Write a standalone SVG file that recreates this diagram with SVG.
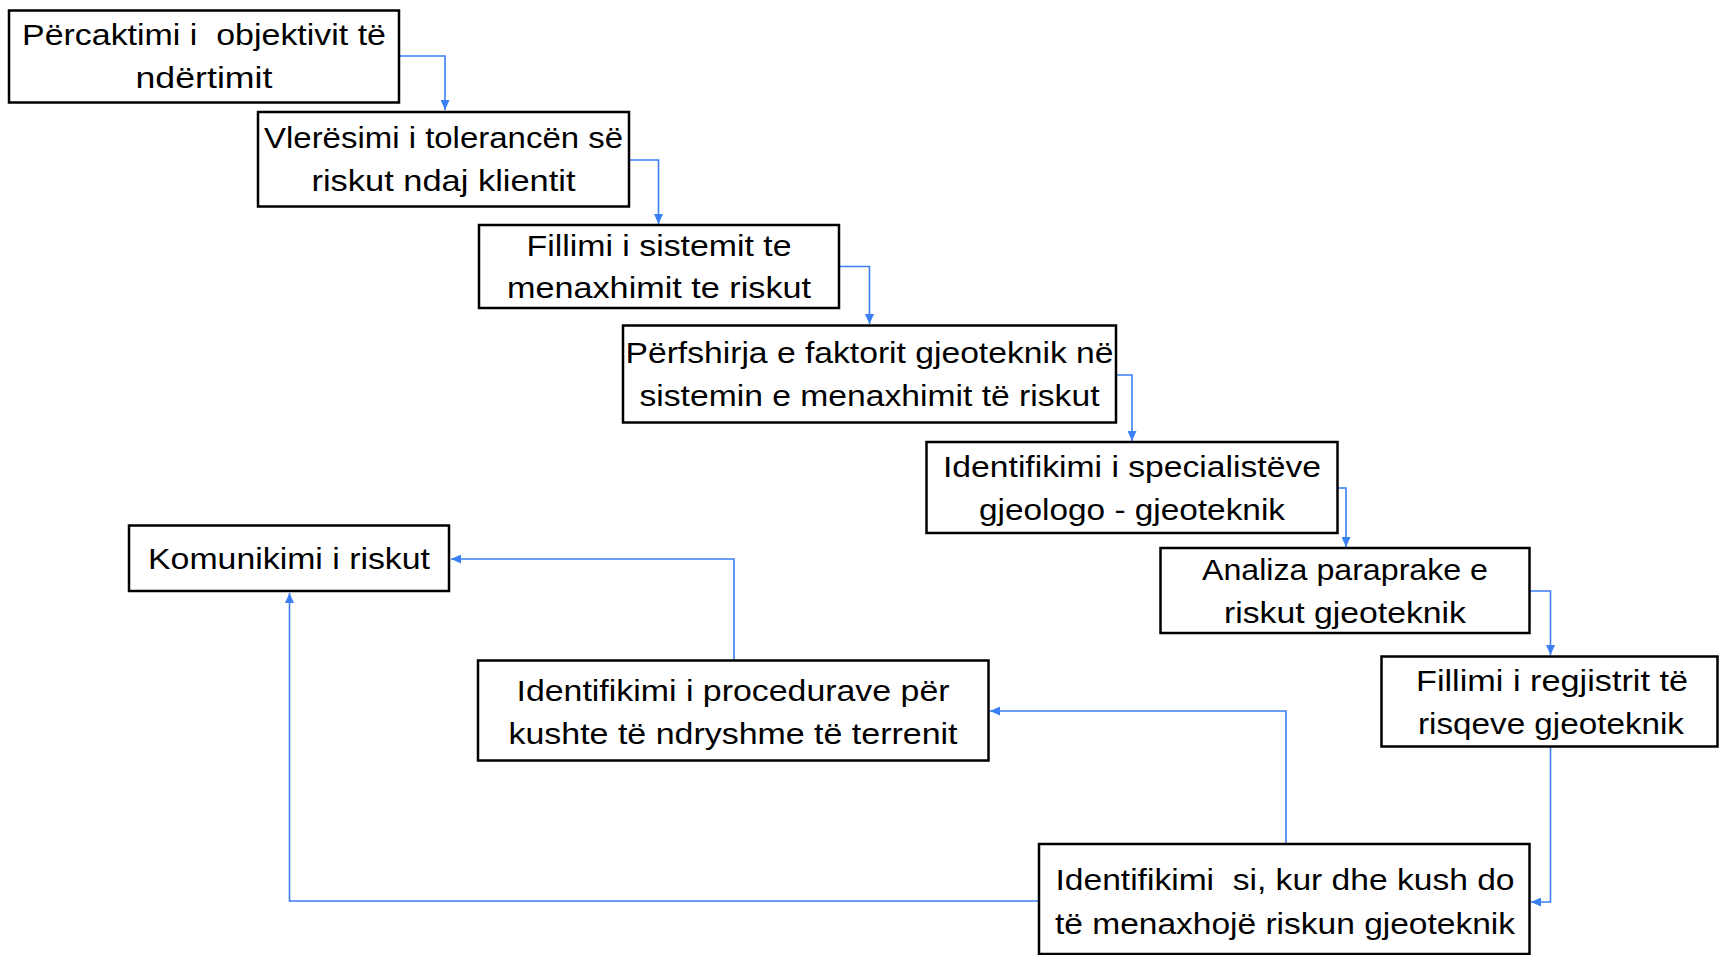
<svg xmlns="http://www.w3.org/2000/svg" width="1719" height="955" viewBox="0 0 1719 955">
  <style>
    .box { fill: #ffffff; stroke: #000000; stroke-width: 2.5; }
    .lbl { font-family: "Liberation Sans", Arial, sans-serif; font-size: 30px; fill: #000000; text-anchor: middle; white-space: pre; }
    .conn { fill: none; stroke: #3b7ff5; stroke-width: 1.6; }
  </style>
  <defs>
    <marker id="arrow" markerUnits="userSpaceOnUse" markerWidth="10" markerHeight="9" refX="10" refY="4.5" orient="auto">
      <path d="M0,0 L10,4.5 L0,9 z" fill="#3b7ff5"/>
    </marker>
  </defs>
  <rect width="1719" height="955" fill="#ffffff"/>

  <g id="connectors">
    <path class="conn" d="M399 56 H445 V110" marker-end="url(#arrow)"/>
    <path class="conn" d="M629 160 H658.5 V224" marker-end="url(#arrow)"/>
    <path class="conn" d="M839 266.5 H869.5 V324" marker-end="url(#arrow)"/>
    <path class="conn" d="M1116 375 H1132 V441" marker-end="url(#arrow)"/>
    <path class="conn" d="M1338 488 H1346 V547" marker-end="url(#arrow)"/>
    <path class="conn" d="M1529.5 591 H1550.5 V655" marker-end="url(#arrow)"/>
    <path class="conn" d="M1550.5 747 V902 H1531" marker-end="url(#arrow)"/>
    <path class="conn" d="M1286 844 V711 H990" marker-end="url(#arrow)"/>
    <path class="conn" d="M1039 901 H289.5 V593" marker-end="url(#arrow)"/>
    <path class="conn" d="M734 660 V559 H451" marker-end="url(#arrow)"/>
  </g>

  <g id="objektivi">
    <rect class="box" x="9" y="10.5" width="390" height="92"/>
    <text class="lbl" x="204" y="45" textLength="364" lengthAdjust="spacingAndGlyphs" xml:space="preserve">Përcaktimi i  objektivit të</text>
    <text class="lbl" x="204" y="88" textLength="137" lengthAdjust="spacingAndGlyphs">ndërtimit</text>
  </g>

  <g id="toleranca">
    <rect class="box" x="258" y="112" width="371" height="94.5"/>
    <text class="lbl" x="443.5" y="148" textLength="359" lengthAdjust="spacingAndGlyphs">Vlerësimi i tolerancën së</text>
    <text class="lbl" x="443.5" y="191" textLength="264" lengthAdjust="spacingAndGlyphs">riskut ndaj klientit</text>
  </g>

  <g id="sistemi">
    <rect class="box" x="479" y="225" width="360" height="83"/>
    <text class="lbl" x="659" y="255.5" textLength="265" lengthAdjust="spacingAndGlyphs">Fillimi i sistemit te</text>
    <text class="lbl" x="659" y="298" textLength="304" lengthAdjust="spacingAndGlyphs">menaxhimit te riskut</text>
  </g>

  <g id="faktori">
    <rect class="box" x="623" y="325.5" width="493" height="97"/>
    <text class="lbl" x="869.5" y="363" textLength="488" lengthAdjust="spacingAndGlyphs">Përfshirja e faktorit gjeoteknik në</text>
    <text class="lbl" x="869.5" y="406" textLength="460" lengthAdjust="spacingAndGlyphs">sistemin e menaxhimit të riskut</text>
  </g>

  <g id="specialistet">
    <rect class="box" x="926.5" y="442" width="411" height="91"/>
    <text class="lbl" x="1132" y="477" textLength="378" lengthAdjust="spacingAndGlyphs">Identifikimi i specialistëve</text>
    <text class="lbl" x="1132" y="520" textLength="306" lengthAdjust="spacingAndGlyphs">gjeologo - gjeoteknik</text>
  </g>

  <g id="analiza">
    <rect class="box" x="1160.5" y="548" width="369" height="85"/>
    <text class="lbl" x="1345" y="580" textLength="286" lengthAdjust="spacingAndGlyphs">Analiza paraprake e</text>
    <text class="lbl" x="1345" y="623" textLength="242" lengthAdjust="spacingAndGlyphs">riskut gjeoteknik</text>
  </g>

  <g id="regjistri">
    <rect class="box" x="1381.5" y="656.5" width="336" height="90"/>
    <text class="lbl" x="1552" y="691" textLength="272" lengthAdjust="spacingAndGlyphs">Fillimi i regjistrit të</text>
    <text class="lbl" x="1551" y="734" textLength="266" lengthAdjust="spacingAndGlyphs">risqeve gjeoteknik</text>
  </g>

  <g id="menaxhimi">
    <rect class="box" x="1039" y="844" width="490.5" height="110"/>
    <text class="lbl" x="1285" y="890" textLength="459" lengthAdjust="spacingAndGlyphs" xml:space="preserve">Identifikimi  si, kur dhe kush do</text>
    <text class="lbl" x="1285" y="934" textLength="460" lengthAdjust="spacingAndGlyphs">të menaxhojë riskun gjeoteknik</text>
  </g>

  <g id="komunikimi">
    <rect class="box" x="129" y="525.5" width="320" height="65.5"/>
    <text class="lbl" x="289" y="569" textLength="282" lengthAdjust="spacingAndGlyphs">Komunikimi i riskut</text>
  </g>

  <g id="procedurat">
    <rect class="box" x="478" y="660.5" width="510.5" height="100"/>
    <text class="lbl" x="733" y="701" textLength="433" lengthAdjust="spacingAndGlyphs">Identifikimi i procedurave për</text>
    <text class="lbl" x="733" y="744" textLength="449" lengthAdjust="spacingAndGlyphs">kushte të ndryshme të terrenit</text>
  </g>
</svg>
